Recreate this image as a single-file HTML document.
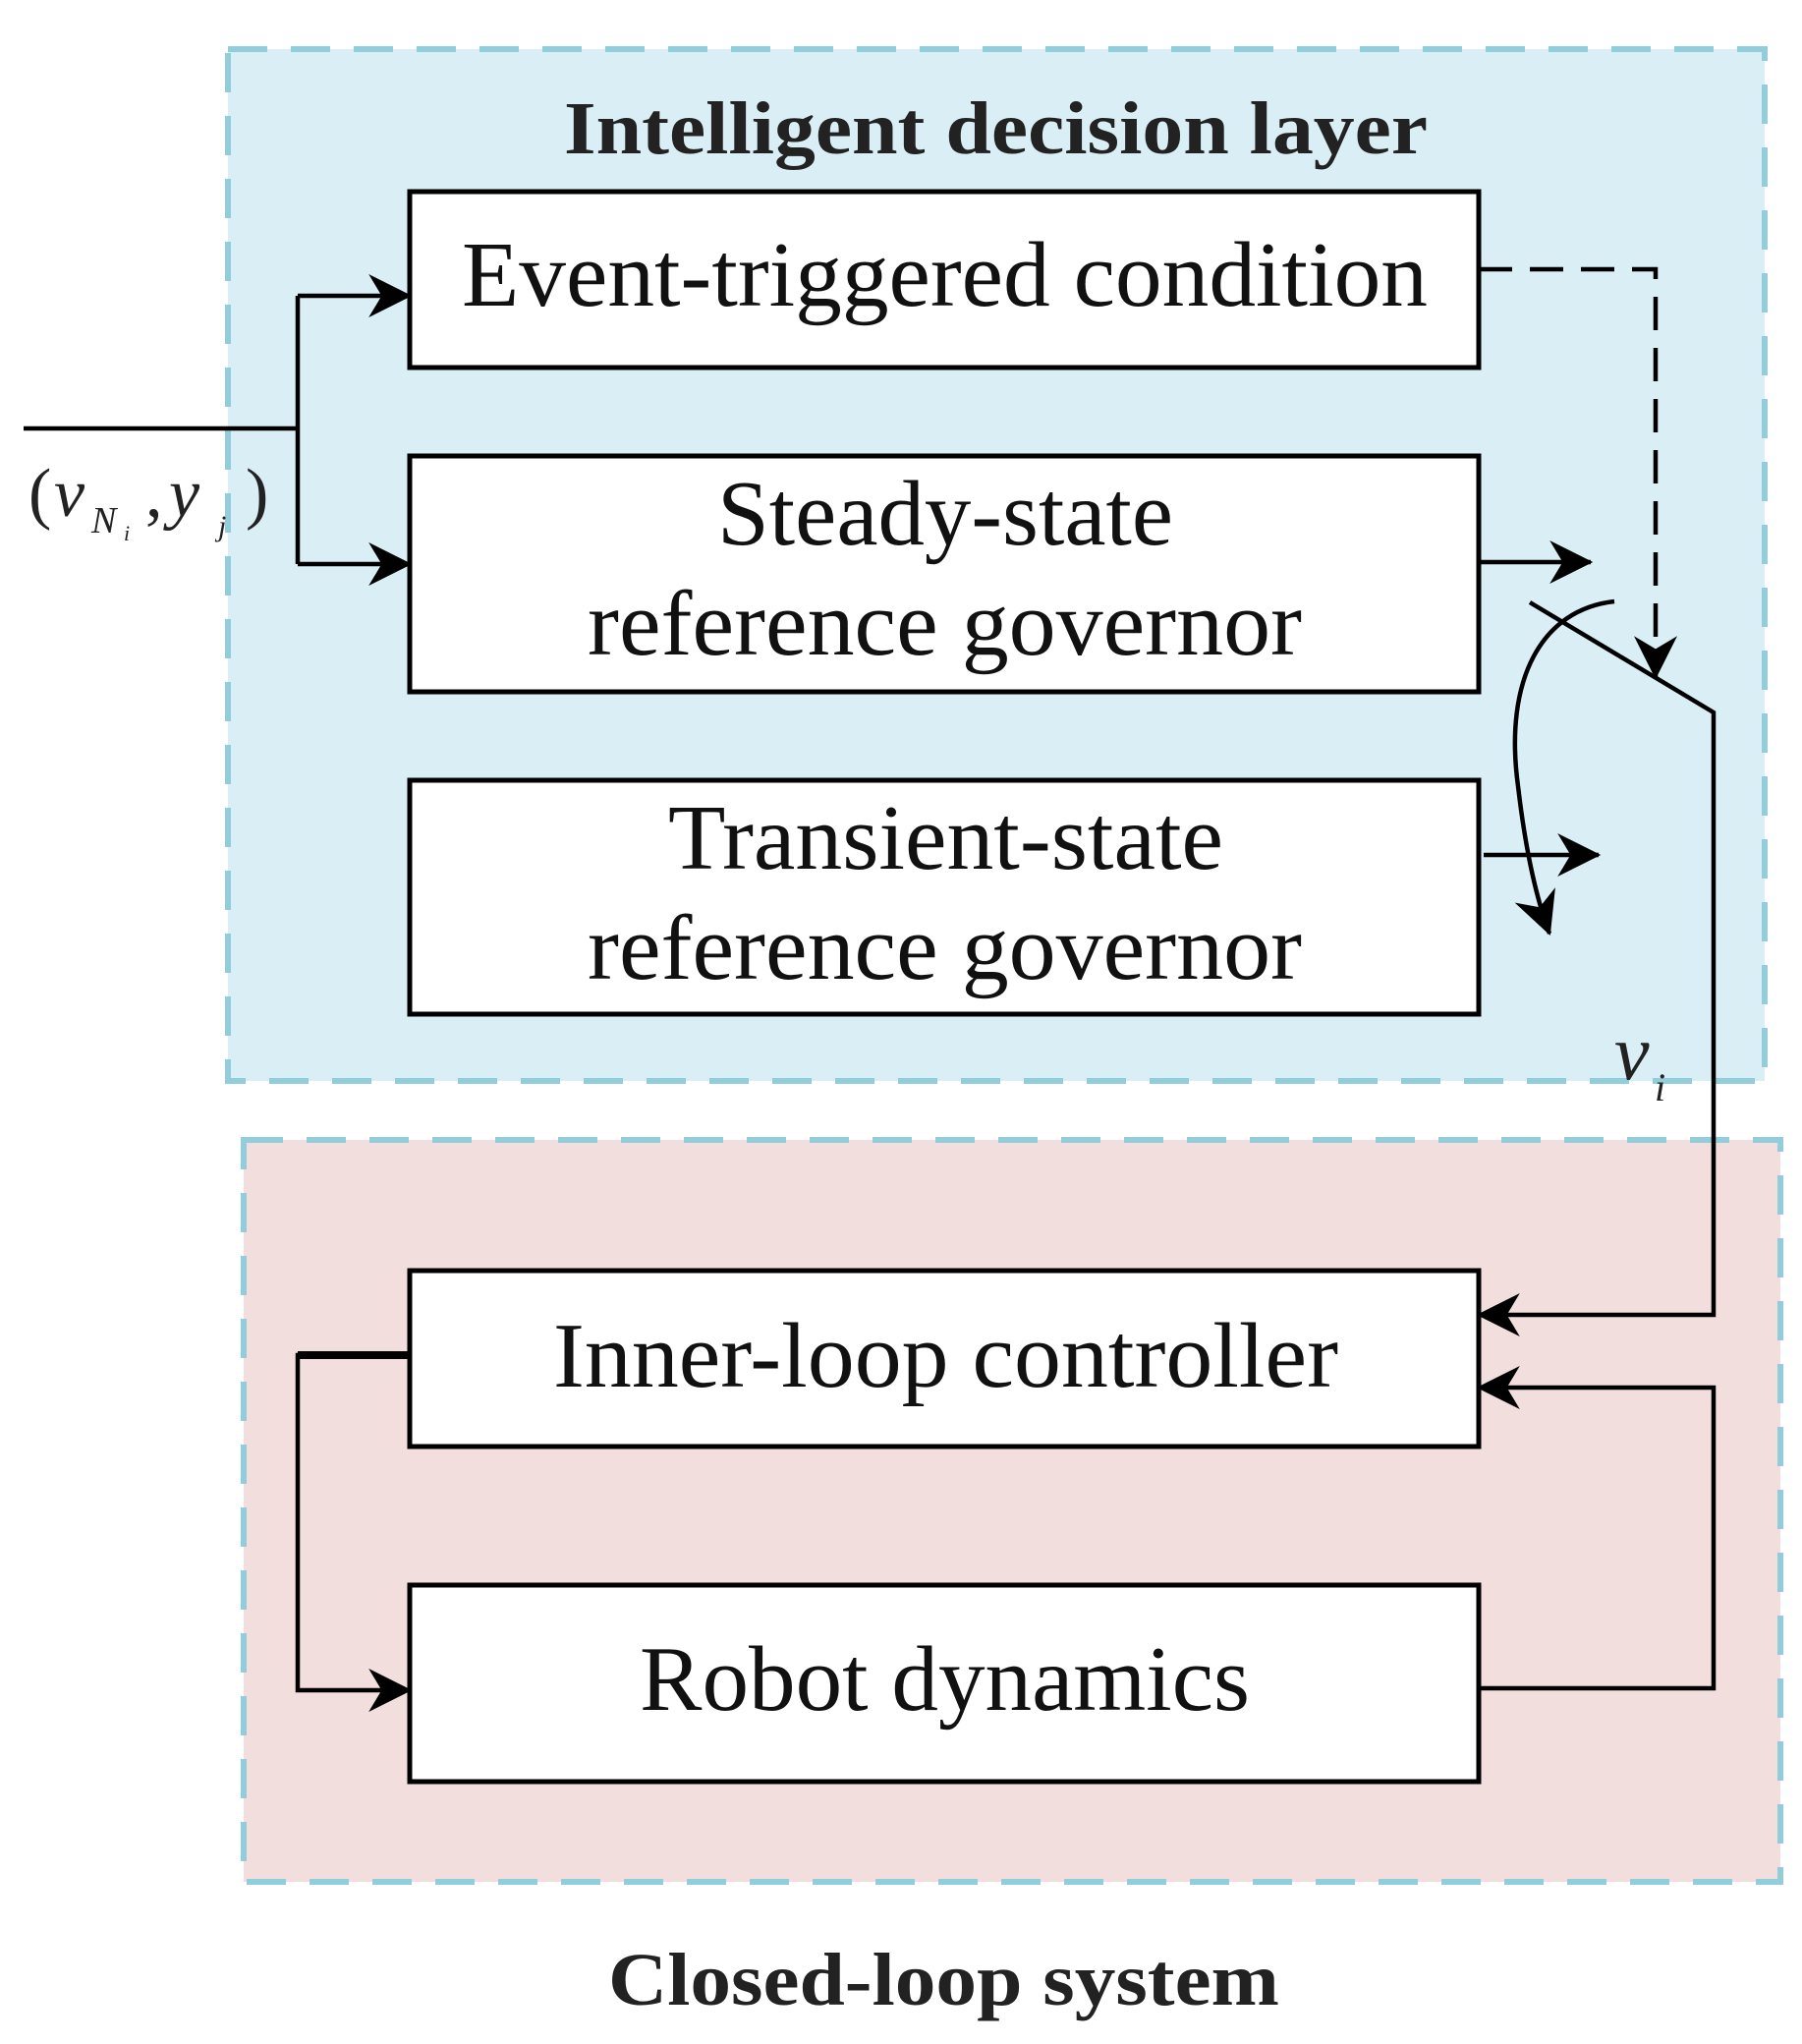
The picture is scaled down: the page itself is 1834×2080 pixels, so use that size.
<!DOCTYPE html>
<html><head><meta charset="utf-8"><style>html,body{margin:0;padding:0;background:#fff}svg{display:block}</style></head>
<body>
<svg width="1834" height="2080" viewBox="0 0 1834 2080" xmlns="http://www.w3.org/2000/svg">
<defs>
<marker id="b" viewBox="0 0 20 20" refX="19" refY="10" markerWidth="44" markerHeight="44" markerUnits="userSpaceOnUse" orient="auto">
<path d="M0,0 L20,10 L0,20 L6,10 Z" fill="#000"/></marker>
</defs>
<rect x="232" y="50" width="1564" height="1050" fill="#daeef5" stroke="#92cddc" stroke-width="6" stroke-dasharray="40 24"/>
<rect x="248" y="1160" width="1564" height="755" fill="#f2dedd" stroke="#92cddc" stroke-width="6" stroke-dasharray="40 24"/>
<g font-family="Liberation Serif, serif" fill="#222">
<text x="574" y="156" font-size="76" font-weight="bold" textLength="879" lengthAdjust="spacingAndGlyphs">Intelligent decision layer</text>
<text x="619" y="2040" font-size="76" font-weight="bold" textLength="683" lengthAdjust="spacingAndGlyphs">Closed-loop system</text>
</g>
<g fill="#fff" stroke="#000" stroke-width="5">
<rect x="417" y="195" width="1088" height="179"/>
<rect x="417" y="464" width="1088" height="240"/>
<rect x="417" y="794" width="1088" height="238"/>
<rect x="417" y="1293" width="1088" height="179"/>
<rect x="417" y="1613" width="1088" height="200"/>
</g>
<g font-family="Liberation Serif, serif" fill="#111" font-size="94">
<text x="470" y="311" textLength="983" lengthAdjust="spacingAndGlyphs">Event-triggered condition</text>
<text x="730" y="554" textLength="464" lengthAdjust="spacingAndGlyphs">Steady-state</text>
<text x="598" y="666" textLength="727" lengthAdjust="spacingAndGlyphs">reference governor</text>
<text x="680" y="884" textLength="565" lengthAdjust="spacingAndGlyphs">Transient-state</text>
<text x="598" y="996" textLength="727" lengthAdjust="spacingAndGlyphs">reference governor</text>
<text x="563" y="1411" textLength="799" lengthAdjust="spacingAndGlyphs">Inner-loop controller</text>
<text x="651" y="1740" textLength="621" lengthAdjust="spacingAndGlyphs">Robot dynamics</text>
</g>
<g font-family="Liberation Serif, serif" fill="#222" font-style="italic">
<text x="29" y="525" font-size="70" font-style="normal">(</text>
<text x="55" y="525" font-size="70">v</text>
<text x="93" y="542" font-size="38">N</text>
<text x="126" y="550" font-size="22">i</text>
<text x="148" y="525" font-size="70" font-style="normal">,</text>
<text x="172" y="525" font-size="70">y</text>
<text x="222" y="545" font-size="30">j</text>
<text x="250" y="525" font-size="70" font-style="normal">)</text>
<text x="1643" y="1098" font-size="80">v</text>
<text x="1684" y="1120" font-size="40">i</text>
</g>
<g fill="none" stroke="#000" stroke-width="4.5">
<path d="M24,436 H303 M303,301 V574"/>
<path d="M303,301 H417" marker-end="url(#b)"/>
<path d="M303,574 H417" marker-end="url(#b)"/>
<path d="M1505,274 H1685 V689" stroke-dasharray="34 18" marker-end="url(#b)"/>
<path d="M1505,572 H1619" marker-end="url(#b)"/>
<path d="M1510,870 H1627" marker-end="url(#b)"/>
<path d="M1557,613 L1744,725 V1338 H1505" marker-end="url(#b)"/>
<path d="M1505,1718 H1744 V1412 H1505" marker-end="url(#b)"/>
<path d="M417,1379 H303 V1720 H417" marker-end="url(#b)"/>
<path d="M1643,612 C1570,620 1530,690 1545,800 C1552,860 1562,910 1577,950" marker-end="url(#b)"/>
</g>
<path d="M303,1379 H417" stroke="#000" stroke-width="8"/>
</svg>
</body></html>
